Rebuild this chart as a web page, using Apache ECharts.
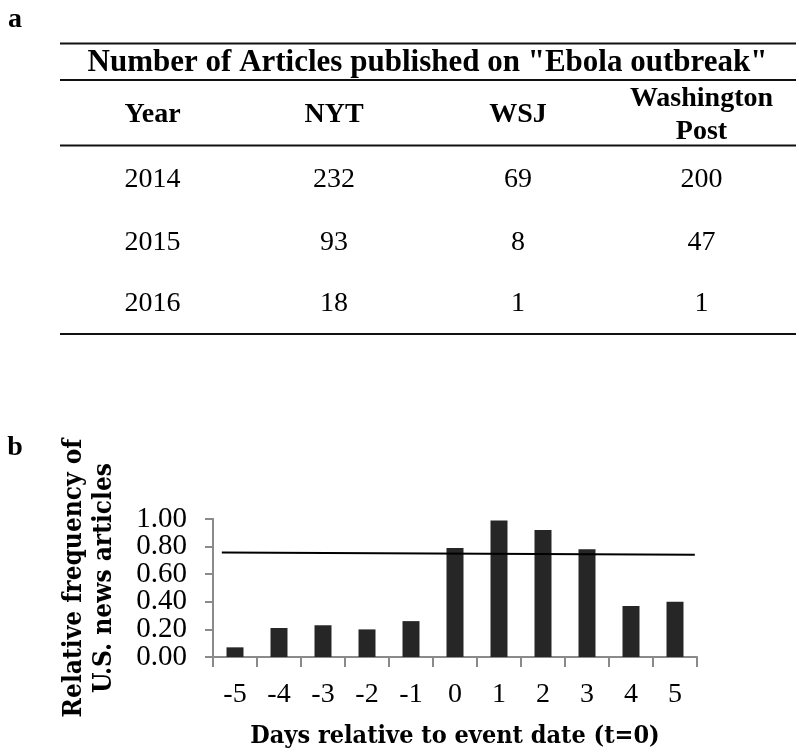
<!DOCTYPE html>
<html>
<head>
<meta charset="utf-8">
<script src="https://cdn.jsdelivr.net/npm/echarts@6/dist/echarts.min.js"></script>
<style>
html,body{margin:0;padding:0;background:#fff;}
#chart{width:799px;height:754px;}
</style>
</head>
<body>
<div id="chart"></div>
<script>
// ---- Panel a: table data ----
const tableTitle = 'Number of Articles published on "Ebola outbreak"';
const tableHeaders = ['Year', 'NYT', 'WSJ', 'Washington\nPost'];
const tableYears = ['2014', '2015', '2016'];
const nytCounts = [232, 93, 18];
const wsjCounts = [69, 8, 1];
const wpCounts = [200, 47, 1];

// ---- Panel b: bar chart data ----
const dayLabels = ['-5', '-4', '-3', '-2', '-1', '0', '1', '2', '3', '4', '5'];
const relFreq = [0.07, 0.21, 0.23, 0.20, 0.26, 0.79, 0.99, 0.92, 0.78, 0.37, 0.40];
const refLineDays = [-5.3, 5.45];
const refLineValues = [0.757, 0.741];
const yTicksEven = [0, 0.4, 0.8];   // 0.00, 0.40, 0.80
const yTicksOdd = [0.2, 0.6, 1.0];  // 0.20, 0.60, 1.00

const serif = '"Liberation Serif", "Times New Roman", serif';
const titleFont = '"DejaVu Serif Condensed", "DejaVu Serif", serif';

// table layout
const colX = [152.6, 334, 518, 701.5];
const rowY = [179.5, 242.5, 304];
const ruleY = [43.5, 80, 145.5, 334];
const graphics = [];
ruleY.forEach(y => graphics.push({
  type: 'line', shape: {x1: 60, y1: y, x2: 796, y2: y},
  style: {stroke: '#111', lineWidth: 2}
}));
graphics.push({type: 'text', x: 427.5, y: 62.5, style: {
  text: tableTitle, font: 'bold 31px ' + serif, fill: '#000',
  textAlign: 'center', textVerticalAlign: 'middle'}});
tableHeaders.forEach((h, i) => graphics.push({type: 'text', x: colX[i], y: 115, style: {
  text: h, font: 'bold 28px ' + serif, fill: '#000', lineHeight: 33,
  textAlign: 'center', textVerticalAlign: 'middle'}}));
tableYears.forEach((yr, r) => {
  const rowVals = [yr, nytCounts[r], wsjCounts[r], wpCounts[r]];
  rowVals.forEach((v, c) => graphics.push({type: 'text', x: colX[c], y: rowY[r], style: {
    text: String(v), font: '28px ' + serif, fill: '#000',
    textAlign: 'center', textVerticalAlign: 'middle'}}));
});
graphics.push({type: 'text', x: 15, y: 20, style: {text: 'a', font: 'bold 28px ' + serif, fill: '#000',
  textAlign: 'center', textVerticalAlign: 'middle'}});
graphics.push({type: 'text', x: 15, y: 448, style: {text: 'b', font: 'bold 28px ' + serif, fill: '#000',
  textAlign: 'center', textVerticalAlign: 'middle'}});

const axisGrey = '#8a8a8a';
function makeYAxis(vals, withName) {
  const ax = {
    type: 'value', min: 0, max: 1, position: 'left', offset: 0,
    splitLine: {show: false},
    axisLine: {show: true, onZero: false, lineStyle: {color: axisGrey, width: 2}},
    axisTick: {show: true, length: 8, customValues: vals, lineStyle: {color: axisGrey, width: 2}},
    axisLabel: {fontFamily: serif, fontSize: 29, color: '#000', margin: 26,
      customValues: vals, showMinLabel: true, showMaxLabel: true, hideOverlap: false,
      formatter: v => v.toFixed(2)}
  };
  if (withName) {
    Object.assign(ax, {
      name: 'Relative frequency of\nU.S. news articles', nameLocation: 'middle', nameGap: 94,
      nameRotate: 90,
      nameTextStyle: {fontFamily: titleFont, fontWeight: 'bold', fontSize: 26, color: '#000',
        lineHeight: 30, padding: [0, 0, 0, 20]}
    });
  }
  return ax;
}

const chart = echarts.init(document.getElementById('chart'), null, {renderer: 'canvas'});
chart.setOption({
  animation: false,
  backgroundColor: '#fff',
  graphic: graphics,
  grid: {left: 213, right: 102, top: 519, bottom: 97, containLabel: false},
  xAxis: [{
    type: 'category', data: dayLabels, boundaryGap: true,
    axisLine: {onZero: false, lineStyle: {color: axisGrey, width: 2}},
    axisTick: {show: true, length: 10, alignWithLabel: false, lineStyle: {color: axisGrey, width: 2}},
    axisLabel: {fontFamily: serif, fontSize: 28, color: '#000', margin: 24, interval: 0},
    name: 'Days relative to event date (t=0)', nameLocation: 'middle', nameGap: 67,
    nameTextStyle: {fontFamily: titleFont, fontWeight: 'bold', fontSize: 25, color: '#000'}
  }, {
    type: 'value', min: -5.5, max: 5.5, show: false,
    axisLine: {onZero: false}
  }],
  yAxis: [makeYAxis(yTicksEven, true), makeYAxis(yTicksOdd, false)],
  series: [{
    type: 'bar', data: relFreq, barWidth: 17, xAxisIndex: 0, yAxisIndex: 0,
    itemStyle: {color: '#262626'}
  }, {
    type: 'line', xAxisIndex: 1, yAxisIndex: 0, symbol: 'none',
    data: refLineDays.map((d, i) => [d, refLineValues[i]]),
    lineStyle: {color: '#000', width: 2}, z: 5
  }]
});
</script>
</body>
</html>
